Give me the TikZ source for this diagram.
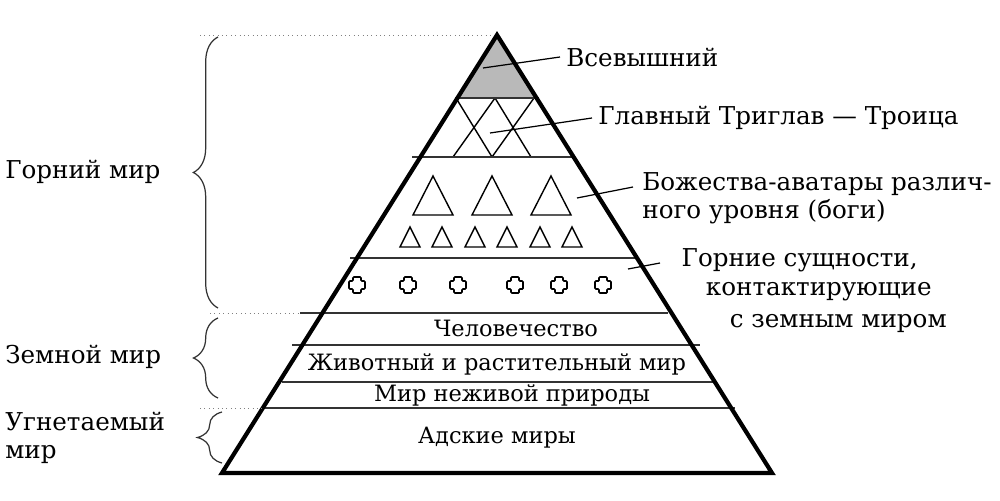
\documentclass[tikz,border=0pt]{standalone}
\usepackage{fontspec}
\setmainfont{DejaVu Serif}
\usetikzlibrary{decorations.pathreplacing}
\tikzset{
  lbl/.style={font=\fontsize{14}{16}\selectfont, inner sep=0pt},
  inlbl/.style={font=\fontsize{12.8}{14}\selectfont, inner sep=0pt},
  layer/.style={line width=1.1pt, black!80},
  leader/.style={line width=0.7pt},
  dots/.style={dotted, line width=0.5pt, gray},
  brc/.style={decorate, decoration={brace, amplitude=14pt}, line width=0.7pt, gray!40!black}
}
\begin{document}
\begin{tikzpicture}[x=0.02cm, y=-0.02cm]
\useasboundingbox (0,0) rectangle (1000,500);

% top
\fill[gray!55] (497,35) -- (457.4,98) -- (536.6,98) -- cycle;
\begin{scope}
\clip (497,35) -- (222,473) -- (772,473) -- cycle;
\draw[line width=0.8pt] (456,98) -- (492,157) (495,98) -- (531,157)
                        (534,98) -- (492,157) (495,98) -- (453,157);
\end{scope}

% layers
\draw[layer] (455,98) -- (539,98);
\draw[layer] (412,157) -- (572,157);
\draw[layer] (350,258) -- (637,258);
\draw[layer] (300,313) -- (668,313);
\draw[layer] (292,345) -- (700,345);
\draw[layer] (282,382) -- (715,382);
\draw[layer] (262,408) -- (735,408);

% gods
\foreach \x in {433,492,551}
  \draw[line width=0.8pt] (\x,176) -- (\x+20,215) -- (\x-20,215) -- cycle;
\foreach \x in {410,442,475,507,540,572}
  \draw[line width=0.8pt] (\x,227) -- (\x+10,247) -- (\x-10,247) -- cycle;
\foreach \x in {357,408,458,515,559,603}
  \draw[line width=0.9pt, rounded corners=0.5pt] (\x-4,277) -- (\x+4,277) -- (\x+4,281) -- (\x+8,281) -- (\x+8,289)
    -- (\x+4,289) -- (\x+4,293) -- (\x-4,293) -- (\x-4,289) -- (\x-8,289) -- (\x-8,281) -- (\x-4,281) -- cycle;

% outline
\draw[line width=2.4pt, line join=miter] (497,35) -- (222,473) -- (772,473) -- cycle;

% inner labels
\node[inlbl] (human) at (516,328) {Человечество};
\node[inlbl] (life) at (497,364) {Животный и растительный мир};
\node[inlbl] (nature) at (512,395) {Мир неживой природы};
\node[inlbl] (hell) at (497,438) {Адские миры};

% right labels
\node[lbl, anchor=west] (top) at (566,57) {Всевышний};
\node[lbl, anchor=west] (trig) at (598,118) {Главный Триглав — Троица};
\node[lbl, anchor=west, align=left] (gods) at (642,198) {Божества-аватары различ-\\ного уровня (боги)};
\node[lbl, anchor=east] (ess1) at (918,260) {Горние сущности,};
\node[lbl, anchor=east] (ess2) at (932,292) {контактирующие};
\node[lbl, anchor=east] (ess3) at (947,323) {с земным миром};
\coordinate (ptop) at (483,68);
\coordinate (ptrig) at (490,133);
\coordinate (pgods) at (577,198);
\coordinate (pess) at (628,269);
\draw[leader] (top.west) ++(-6,0) -- (ptop);
\draw[leader] (trig.west) ++(-6,0) -- (ptrig);
\draw[leader] (633,187) -- (pgods);
\draw[leader] (660,263) -- (pess);

% left labels
\draw[dots] (200,35) -- (490,35);
\draw[dots] (210,313) -- (300,313);
\draw[dots] (200,408) -- (262,408);
\draw[brc] (218,308) -- (218,37);
\draw[brc] (218,398) -- (218,318);
\draw[brc] (222,463) -- (222,412);
\node[lbl, anchor=west] (upper) at (5,172) {Горний мир};
\node[lbl, anchor=west] (earth) at (5,357) {Земной мир};
\node[lbl, anchor=west, align=left] (lower) at (5,438) {Угнетаемый\\мир};
\end{tikzpicture}
\end{document}
